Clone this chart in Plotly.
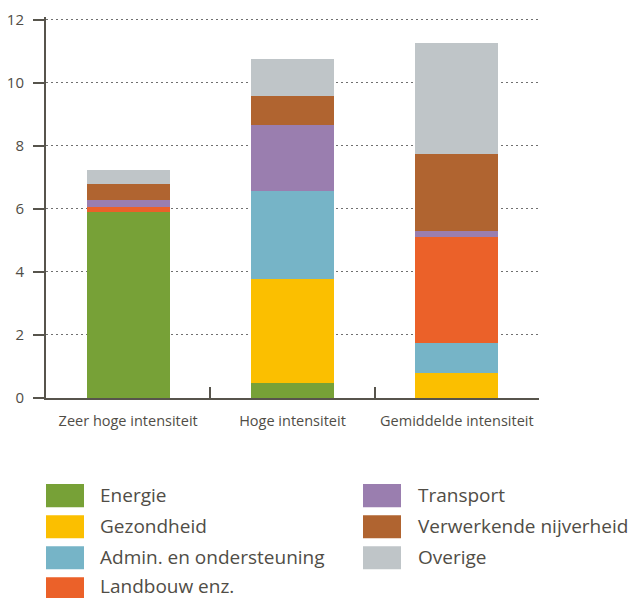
import plotly.graph_objects as go

categories = ["Zeer hoge intensiteit", "Hoge intensiteit", "Gemiddelde intensiteit"]
series_names = ["Energie", "Gezondheid", "Admin. en ondersteuning", "Landbouw enz.",
                "Transport", "Verwerkende nijverheid", "Overige"]
energie = [5.91, 0.48, 0.0]
gezondheid = [0.0, 3.30, 0.79]
admin = [0.0, 2.79, 0.96]
landbouw = [0.15, 0.0, 3.36]
transport = [0.23, 2.10, 0.19]
verwerkende = [0.50, 0.92, 2.45]
overige = [0.45, 1.17, 3.52]
series_values = [energie, gezondheid, admin, landbouw, transport, verwerkende, overige]
colors = ["#77A137", "#FBBF00", "#76B4C7", "#EB6129", "#9A7EAF", "#B06430", "#BFC5C8"]
y_ticks = [0, 2, 4, 6, 8, 10, 12]

W, H = 632, 598
Y_MAX = 12.08
PX_PER_UNIT = 31.5
L, R, B = 46, 539, 398  # plot area pixel bounds
T = B - Y_MAX * PX_PER_UNIT
TXT = "#504D46"
AX = "#57544C"
FONT = "Open Sans"

fig = go.Figure()
for name, vals, col in zip(series_names, series_values, colors):
    fig.add_trace(go.Bar(x=categories, y=vals, name=name, marker=dict(color=col, line=dict(width=0)),
                         showlegend=False))

def px(x):
    return (x - L) / (R - L)

def py(y):
    return (B - y) / (B - T)

shapes = []
annotations = []
legend_cols = [(46, 98), (363, 416)]
row_y = [495.5, 526.5, 557.5, 588.5]
text_y = [494.5, 525.5, 556.5, 585.3]
for i, (name, col) in enumerate(zip(series_names, colors)):
    c = 0 if i < 4 else 1
    r = i if i < 4 else i - 4
    sx, tx = legend_cols[c]
    cy = row_y[r]
    shapes.append(dict(type="rect", xref="paper", yref="paper",
                       x0=px(sx), x1=px(sx + 38), y0=py(cy - 11.5), y1=py(cy + 11.5),
                       fillcolor=col, line=dict(width=0)))
    annotations.append(dict(xref="paper", yref="paper", x=px(tx), y=py(text_y[r]),
                            xanchor="left", yanchor="middle", text=name, showarrow=False,
                            font=dict(family=FONT, size=19, color=TXT)))

fig.update_layout(
    template="none",
    barmode="stack",
    bargap=0.494,
    width=W, height=H,
    margin=dict(l=L, r=W - R, t=T, b=H - B, pad=0, autoexpand=False),
    plot_bgcolor="white", paper_bgcolor="white",
    font=dict(family=FONT, color=TXT),
    shapes=shapes,
    annotations=annotations,
    showlegend=False,
    xaxis=dict(
        type="category",
        automargin=False,
        showline=True, linecolor=AX, linewidth=2,
        ticks="inside", tickson="boundaries", ticklen=11, tickcolor=AX, tickwidth=2,
        showgrid=False, zeroline=False,
        tickfont=dict(family=FONT, size=14.5, color=TXT),
        ticklabelstandoff=9,
    ),
    yaxis=dict(
        range=[0, Y_MAX],
        tickvals=y_ticks,
        automargin=False,
        showline=True, linecolor=AX, linewidth=2,
        ticks="outside", ticklen=11, tickcolor=AX, tickwidth=2,
        showgrid=True, gridcolor="#707070", gridwidth=1, griddash="1.5px,3.5px",
        zeroline=False,
        tickfont=dict(family=FONT, size=15, color=TXT),
        ticklabelstandoff=6,
    ),
)

fig.write_html("out.html")
